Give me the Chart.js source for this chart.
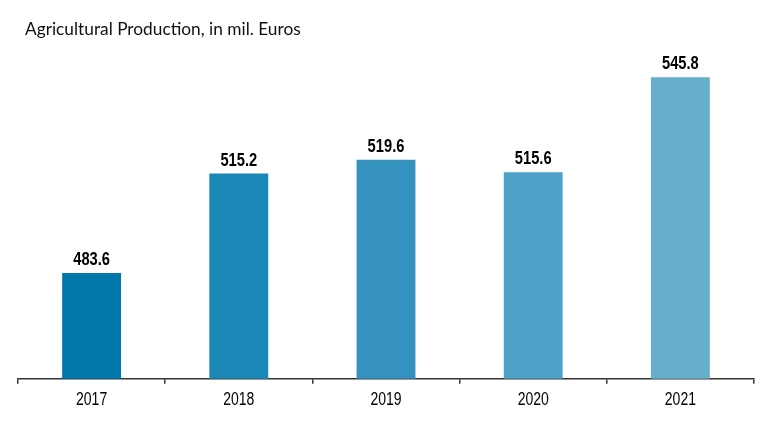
<!DOCTYPE html>
<html>
<head>
<meta charset="utf-8">
<script src="https://cdn.jsdelivr.net/npm/chart.js@4"></script>
<style>
  html, body { margin: 0; padding: 0; background: #fff; }
</style>
</head>
<body>
<canvas id="grafico" width="776" height="427"></canvas>
<script>
const chartTitle = 'Agricultural Production, in mil. Euros';
const years = ['2017', '2018', '2019', '2020', '2021'];
const production = [483.6, 515.2, 519.6, 515.6, 545.8];
const barColors = ['#0077a8', '#1b87b6', '#3592bf', '#4ea2c7', '#67aecb'];

// narrow text: the original uses a condensed face we don't have
function narrowText(ctx, text, x, y, squeeze) {
    ctx.save();
    ctx.translate(x, y);
    ctx.scale(squeeze, 1);
    ctx.fillText(text, 0, 0);
    ctx.restore();
}

// title, values above bars and the year labels
const textLayer = {
    id: 'textLayer',
    afterDraw(chart) {
        const ctx = chart.ctx;
        ctx.save();
        ctx.fillStyle = '#111';
        ctx.textAlign = 'left';
        ctx.textBaseline = 'alphabetic';
        ctx.font = '17.3px Lato, "Open Sans", sans-serif';
        ctx.fillText(chartTitle, 25, 35);

        ctx.fillStyle = '#000';
        ctx.textAlign = 'center';
        ctx.font = 'bold 17.5px "Liberation Sans", Arial, sans-serif';
        chart.getDatasetMeta(0).data.forEach((bar, i) => {
            narrowText(ctx, production[i].toFixed(1), bar.x, bar.y - 8, 0.84);
        });

        ctx.fillStyle = '#000';
        ctx.font = '17.5px "Liberation Sans", Arial, sans-serif';
        const xScale = chart.scales.x;
        years.forEach((year, i) => {
            narrowText(ctx, year, xScale.getPixelForValue(i), 404.5, 0.8);
        });
        ctx.restore();
    }
};

new Chart(document.getElementById('grafico'), {
    type: 'bar',
    data: {
        labels: years,
        datasets: [{
            data: production,
            backgroundColor: barColors,
            categoryPercentage: 0.8,
            barPercentage: 0.5
        }]
    },
    options: {
        responsive: false,
        animation: false,
        layout: { padding: { left: 18, right: 22, top: 64, bottom: 8 } },
        plugins: {
            legend: { display: false },
            tooltip: { enabled: false },
            title: { display: false }
        },
        scales: {
            x: {
                grid: {
                    offset: true,
                    drawOnChartArea: false,
                    drawTicks: true,
                    tickLength: 5,
                    color: '#333',
                    lineWidth: 1.5
                },
                border: { display: true, color: '#333', width: 1.5 },
                ticks: {
                    color: 'rgba(0,0,0,0)',
                    padding: 8,
                    font: { size: 16 }
                }
            },
            y: {
                display: false,
                min: 450,
                max: 550
            }
        }
    },
    plugins: [textLayer]
});
</script>
</body>
</html>
